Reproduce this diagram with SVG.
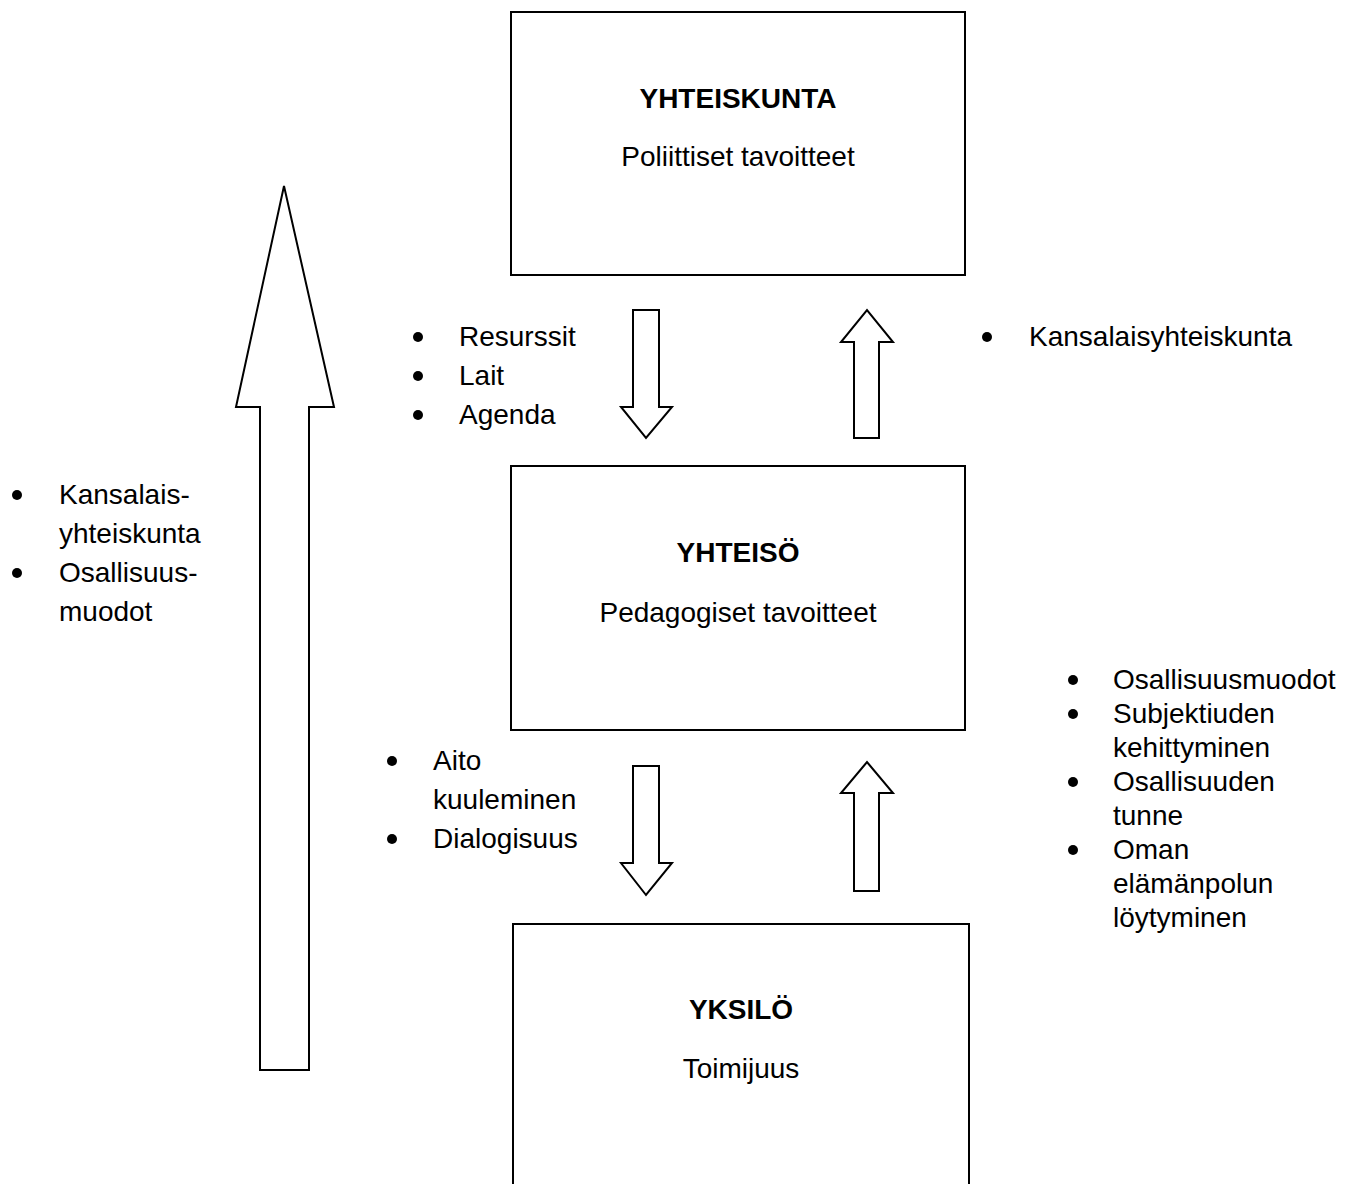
<svg xmlns="http://www.w3.org/2000/svg" width="1345" height="1184" viewBox="0 0 1345 1184">
<style>
text{font-family:"Liberation Sans",Arial,sans-serif;font-size:28px;fill:#000}
.b{font-weight:bold}
.c{text-anchor:middle}
.box{fill:#fff;stroke:#000;stroke-width:2}
.arr{fill:#fff;stroke:#000;stroke-width:2;stroke-linejoin:miter}
.dot{fill:#000}
</style>
<rect width="1345" height="1184" fill="#fff"/>
<g id="connectors">
<polygon class="arr" points="260,1070 309,1070 309,407 334,407 284,186 236,407 260,407"/>
<polygon class="arr" points="633,310 659,310 659,407 672,407 646,438 621,407 633,407"/>
<polygon class="arr" points="854,438 879,438 879,342 893,342 867,310 841,342 854,342"/>
<polygon class="arr" points="633,766 659,766 659,863 672,863 646,895 621,863 633,863"/>
<polygon class="arr" points="854,891 879,891 879,793 893,793 867,762 841,793 854,793"/>
</g>
<g id="node-yhteiskunta">
<rect class="box" x="511" y="12" width="454" height="263"/>
<text class="b c" x="738" y="108">YHTEISKUNTA</text>
<text class="c" x="738" y="166">Poliittiset tavoitteet</text>
</g>
<g id="node-yhteiso">
<rect class="box" x="511" y="466" width="454" height="264"/>
<text class="b c" x="738" y="562">YHTEISÖ</text>
<text class="c" x="738" y="622">Pedagogiset tavoitteet</text>
</g>
<g id="node-yksilo">
<rect class="box" x="513" y="924" width="456" height="280"/>
<text class="b c" x="741" y="1019">YKSILÖ</text>
<text class="c" x="741" y="1078">Toimijuus</text>
</g>
<g id="list-top-left">
<circle class="dot" cx="418" cy="337" r="5"/><text x="459" y="346">Resurssit</text>
<circle class="dot" cx="418" cy="376" r="5"/><text x="459" y="385">Lait</text>
<circle class="dot" cx="418" cy="415" r="5"/><text x="459" y="424">Agenda</text>
</g>
<g id="list-top-right">
<circle class="dot" cx="987" cy="337" r="5"/><text x="1029" y="346">Kansalaisyhteiskunta</text>
</g>
<g id="list-left">
<circle class="dot" cx="17" cy="495" r="5"/><text x="59" y="504">Kansalais-</text>
<text x="59" y="543">yhteiskunta</text>
<circle class="dot" cx="17" cy="573" r="5"/><text x="59" y="582">Osallisuus-</text>
<text x="59" y="621">muodot</text>
</g>
<g id="list-bottom-left">
<circle class="dot" cx="392" cy="761" r="5"/><text x="433" y="770">Aito</text>
<text x="433" y="809">kuuleminen</text>
<circle class="dot" cx="392" cy="839" r="5"/><text x="433" y="848">Dialogisuus</text>
</g>
<g id="list-bottom-right">
<circle class="dot" cx="1073" cy="680" r="5"/><text x="1113" y="689">Osallisuusmuodot</text>
<circle class="dot" cx="1073" cy="714" r="5"/><text x="1113" y="723">Subjektiuden</text>
<text x="1113" y="757">kehittyminen</text>
<circle class="dot" cx="1073" cy="782" r="5"/><text x="1113" y="791">Osallisuuden</text>
<text x="1113" y="825">tunne</text>
<circle class="dot" cx="1073" cy="850" r="5"/><text x="1113" y="859">Oman</text>
<text x="1113" y="893">elämänpolun</text>
<text x="1113" y="927">löytyminen</text>
</g>
</svg>
